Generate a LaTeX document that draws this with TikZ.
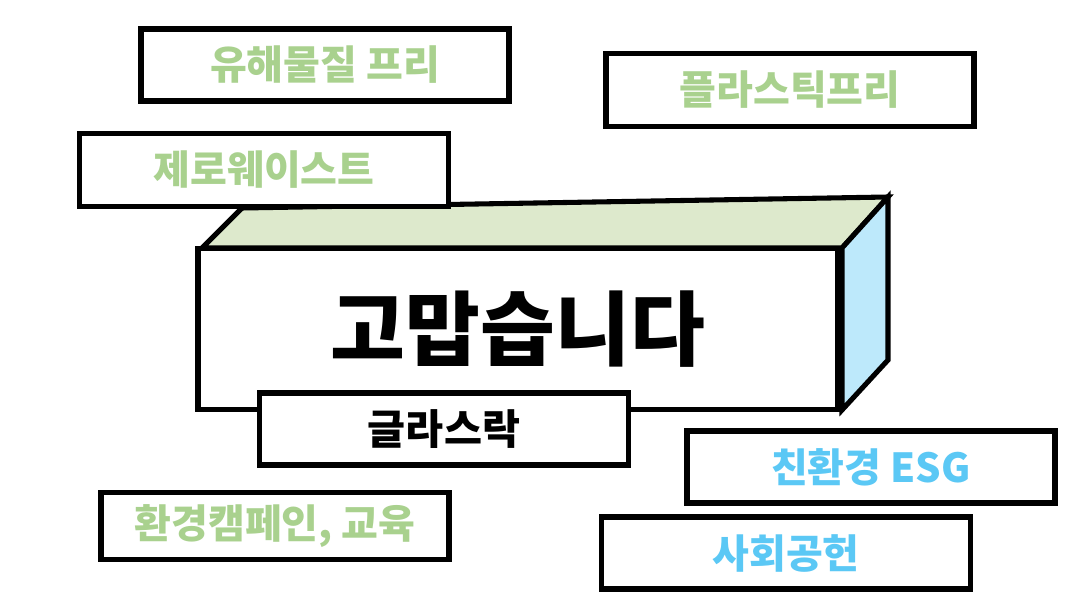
\documentclass[tikz,border=0pt]{standalone}
\usepackage{fontspec}
\setmainfont{Noto Sans CJK KR}
\definecolor{gr}{HTML}{A9D18E}
\definecolor{bl}{HTML}{5BC8F5}
\definecolor{topc}{HTML}{DDE9CC}
\definecolor{side}{HTML}{BDE9FB}
\begin{document}
\begin{tikzpicture}[x=0.75pt,y=-0.75pt,
  lab/.style={draw=black,line width=3.8pt,fill=white,inner sep=0pt,font=\fontsize{30}{34}\selectfont\bfseries},
  edge/.style={draw=black,line width=3.8pt,line join=miter}]
\useasboundingbox (0,0) rectangle (1089,609);
\node[lab,minimum width=276pt,minimum height=54pt,text=gr] (a) at (325,65) {유해물질 프리};
\node[lab,minimum width=276pt,minimum height=55pt,text=gr] (b) at (790,90) {플라스틱프리};
% 3D box
\path[edge,fill=topc] (202,248) -- (242,208) -- (888,197) -- (842,248) -- cycle;
\path[edge,fill=side] (842,248) -- (888,197) -- (888,360) -- (842,410) -- cycle;
\node[edge,fill=white,minimum width=480pt,minimum height=121pt,inner sep=0pt,font=\fontsize{61}{66}\selectfont\bfseries] (main) at (518,329) {고맙습니다};
\node[lab,minimum width=277pt,minimum height=55pt,text=gr] (c) at (264,170) {제로웨이스트};
\node[lab,minimum width=277pt,minimum height=54pt,text=black,font=\fontsize{31}{34}\selectfont\bfseries] (d) at (444,429) {글라스락};
\node[lab,minimum width=276pt,minimum height=54pt,text=bl] (e) at (871,467) {친환경 ESG};
\node[lab,minimum width=261pt,minimum height=50pt,text=gr] (f) at (275,526) {환경캠페인, 교육};
\node[lab,minimum width=277pt,minimum height=54pt,text=bl] (g) at (786,553) {사회공헌};
\end{tikzpicture}
\end{document}
